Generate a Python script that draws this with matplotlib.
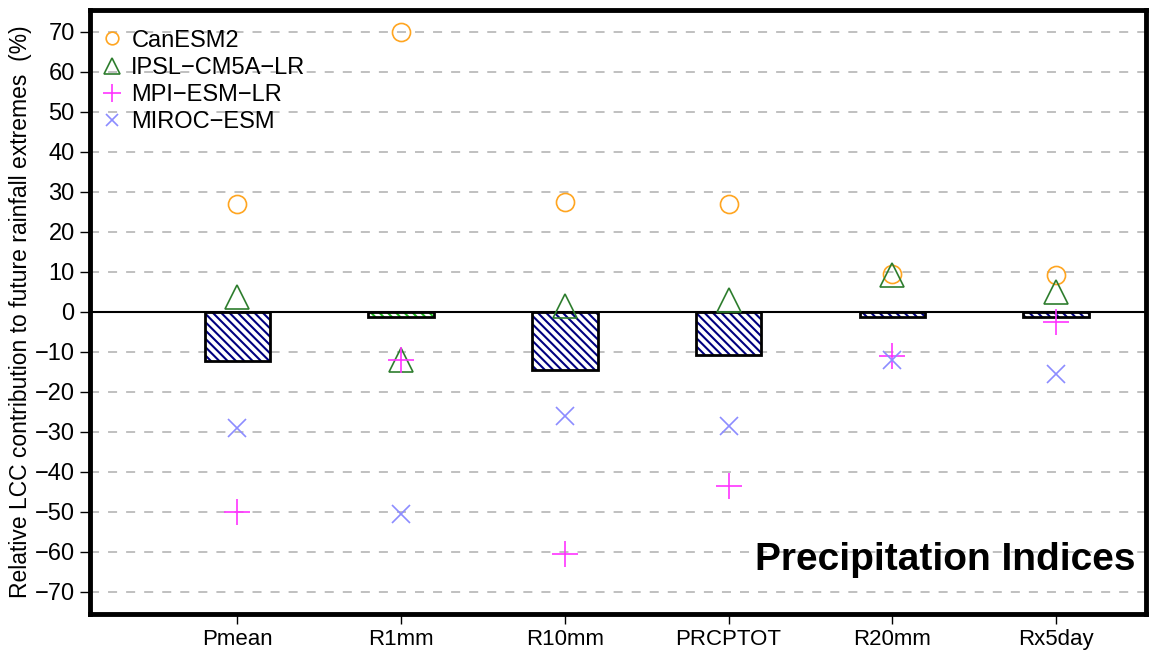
import numpy as np
import matplotlib.pyplot as plt

plt.rcParams['font.family'] = ['Liberation Sans', 'DejaVu Sans']
plt.rcParams['hatch.linewidth'] = 1.5

indices = ["Pmean", "R1mm", "R10mm", "PRCPTOT", "R20mm", "Rx5day"]
ensemble = [-12.2, -1.2, -14.5, -10.7, -1.2, -1.2]
bar_hatch_colors = ["navy", "#22bb22", "navy", "navy", "navy", "navy"]

canesm2 = [27, 70, 27.5, 27, 9.5, 9.2]
ipsl = [3.7, -12, 1.5, 3, 9.3, 5]
mpi = [-50, -12, -60.5, -43.5, -11, -2.4]
miroc = [-29, -50.5, -26, -28.5, -12, -15.5]

ticks = np.arange(-70, 71, 10)

fig = plt.figure(figsize=(11.51, 6.58), dpi=100)
ax = fig.add_axes([0.0782, 0.0669, 0.9175, 0.918])
x = np.arange(1, len(indices) + 1)

for t in ticks:
    if t != 0:
        ax.axhline(t, color="#bbbbbb", lw=1.3, ls=(0, (5, 5)), zorder=0)
ax.axhline(0, color="black", lw=1.5, zorder=1)

for xi, v, hc in zip(x, ensemble, bar_hatch_colors):
    ax.bar(xi, v, width=0.4, color="white", edgecolor=hc, hatch="\\" * 4, lw=0, zorder=2)
    ax.bar(xi, v, width=0.4, color="none", edgecolor="black", lw=2, zorder=3)

ax.plot(x, canesm2, "o", ms=13, mfc="none", mec="#ffa520", mew=1.2, ls="none", label="CanESM2", zorder=4)
ax.plot(x, ipsl, "^", ms=17, mfc="none", mec="#2e7d2e", mew=1.2, ls="none", label="IPSL\u2212CM5A\u2212LR", zorder=4)
ax.plot(x, mpi, "+", ms=19, mec="#ff33ff", mew=1.2, ls="none", label="MPI\u2212ESM\u2212LR", zorder=4)
ax.plot(x, miroc, "x", ms=13, mec="#8c8cff", mew=1.2, ls="none", label="MIROC\u2212ESM", zorder=4)

ax.set_xlim(0.1, 6.55)
ax.set_ylim(-75.5, 75.5)
ax.set_yticks(ticks)
ax.set_yticklabels([str(t).replace("-", "\u2212") for t in ticks], fontsize=17)
ax.set_xticks(x)
ax.set_xticklabels(indices, fontsize=16)
ax.tick_params(axis="both", length=7, width=1, direction="out", pad=4)
for s in ax.spines.values():
    s.set_linewidth(3.5)
ax.set_ylabel("Relative LCC contribution to future rainfall extremes  (%)", fontsize=16.5, labelpad=2)

leg = ax.legend(loc="upper left", bbox_to_anchor=(0, 0.985), frameon=False, fontsize=17,
                handletextpad=0.3, borderaxespad=0.05, borderpad=0.4, labelspacing=0.22,
                markerscale=0.7, handlelength=1.0)

ax.text(0.99, 0.06, "Precipitation Indices", transform=ax.transAxes, ha="right", va="bottom",
        fontsize=28, fontweight="bold")

fig.savefig("out.png", dpi=100)
